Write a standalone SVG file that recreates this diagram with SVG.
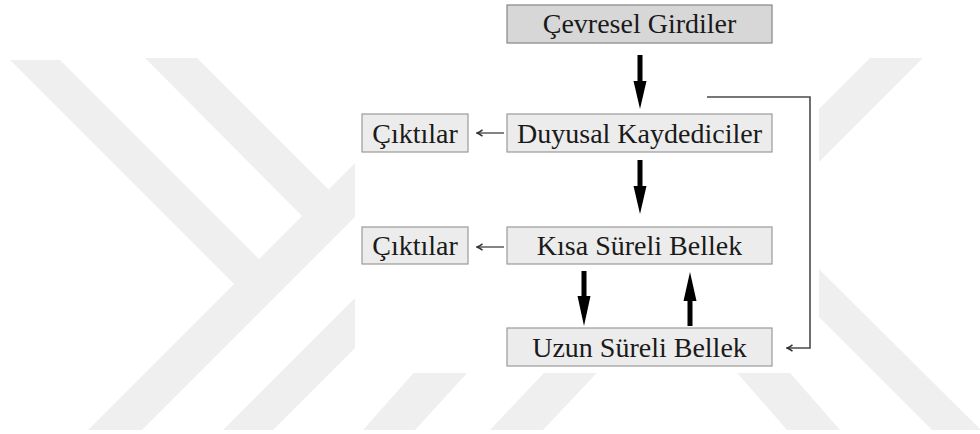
<svg xmlns="http://www.w3.org/2000/svg" width="980" height="434" viewBox="0 0 980 434">
  <defs>
    <style>
      .wm { fill: #efefef; }
      .box { stroke: #9a9a9a; stroke-width: 1.2; fill: #ececec; }
      .box.dark { fill: #d7d7d7; stroke: #858585; }
      .label { font-family: "Liberation Serif", "Times New Roman", serif; font-size: 28px; fill: #1a1a1a; text-anchor: middle; }
      .thick { fill: #000; }
      .thin { fill: none; stroke: #333; stroke-width: 1.2; }
      .loop { fill: none; stroke: #4a4a4a; stroke-width: 1.6; }
    </style>
    <!-- small open arrowhead; tip sits at the end of the line -->
    <marker id="hook" viewBox="0 0 8 8" refX="7" refY="4" markerWidth="8" markerHeight="8" markerUnits="userSpaceOnUse" orient="auto">
      <path d="M1.5,0.8 Q4.5,3.2 7,4 Q4.5,4.8 1.5,7.2" fill="none" stroke="#333" stroke-width="1.5"/>
    </marker>
  </defs>

  <rect width="980" height="434" fill="#ffffff"/>

  <!-- background bands -->
  <g id="watermark">
    <polygon class="wm" points="88,430 142,430 430,142 430,88"/>
    <polygon class="wm" points="10,60 60,60 270,270 234,284"/>
    <polygon class="wm" points="145,58 197,58 340,201 302,216"/>
    <polygon class="wm" points="223,430 273,430 430,273 430,223"/>
    <polygon class="wm" points="363,430 415,430 480,359 426,359"/>
    <polygon class="wm" points="490,430 543,430 610,359 557,359"/>
    <polygon class="wm" points="725,359 778,359 840,430 787,430"/>
    <polygon class="wm" points="870,58 923,58 760,221 760,168"/>
    <polygon class="wm" points="932,430 981,430 700,151 653,151"/>
  </g>
  <rect x="355" y="0" width="464" height="373" fill="#ffffff"/>

  <!-- connectors -->
  <g id="connectors">
    <polygon class="thick" points="637.5,55 642.5,55 642.5,81 646.5,81 640,109 633.5,81 637.5,81"/>
    <polygon class="thick" points="637.5,160 642.5,160 642.5,186 646.5,186 640,214 633.5,186 637.5,186"/>
    <polygon class="thick" points="581.5,271 586.5,271 586.5,296 590.5,296 584,326 577.5,296 581.5,296"/>
    <polygon class="thick" points="687.5,326 692.5,326 692.5,301 696.5,301 690,272 683.5,301 687.5,301"/>
    <line class="thin" x1="504" y1="133" x2="477" y2="133" marker-end="url(#hook)"/>
    <line class="thin" x1="504" y1="247" x2="477" y2="247" marker-end="url(#hook)"/>
    <polyline class="loop" points="707,97 810,97 810,348 787,348" marker-end="url(#hook)"/>
  </g>

  <!-- nodes -->
  <g id="cevresel-girdiler">
    <rect class="box dark" x="507" y="5" width="265" height="38"/>
    <text class="label" x="639.5" y="33">Çevresel Girdiler</text>
  </g>
  <g id="duyusal-kaydediciler">
    <rect class="box" x="507" y="114" width="265" height="38"/>
    <text class="label" x="639.5" y="143">Duyusal Kaydediciler</text>
  </g>
  <g id="ciktilar-1">
    <rect class="box" x="362" y="114" width="106" height="38"/>
    <text class="label" x="415" y="143">Çıktılar</text>
  </g>
  <g id="kisa-sureli-bellek">
    <rect class="box" x="507" y="227" width="265" height="37"/>
    <text class="label" x="639.5" y="255">Kısa Süreli Bellek</text>
  </g>
  <g id="ciktilar-2">
    <rect class="box" x="362" y="227" width="106" height="37"/>
    <text class="label" x="415" y="255">Çıktılar</text>
  </g>
  <g id="uzun-sureli-bellek">
    <rect class="box" x="507" y="328" width="265" height="38"/>
    <text class="label" x="639.5" y="357">Uzun Süreli Bellek</text>
  </g>
</svg>
